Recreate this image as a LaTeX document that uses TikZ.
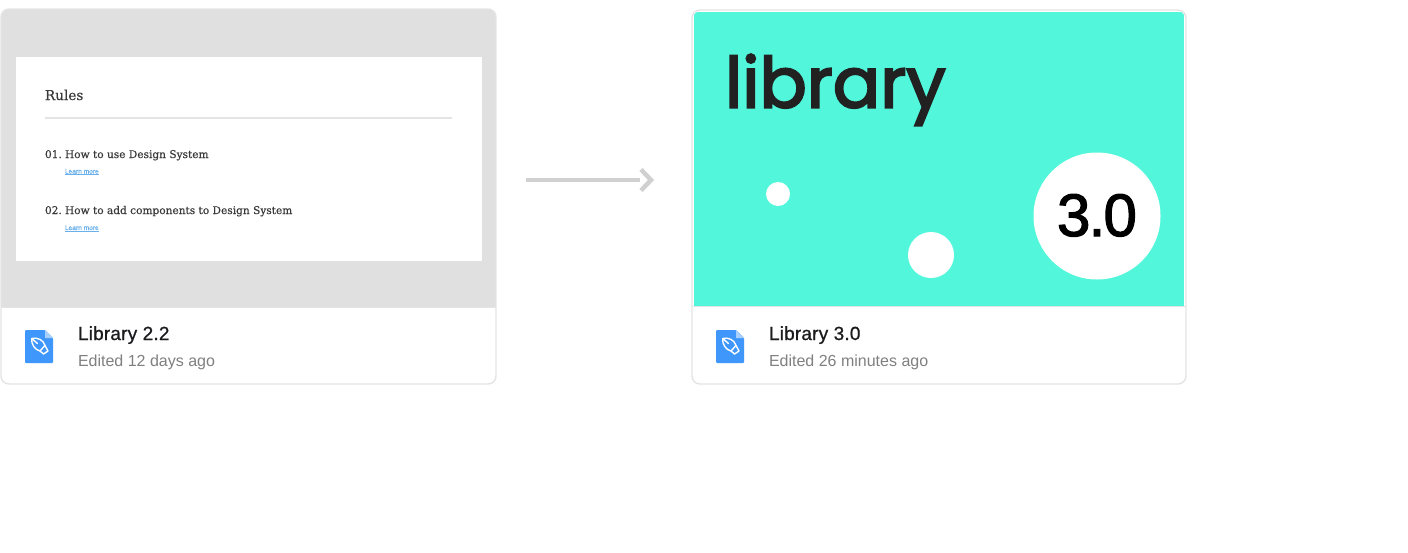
\documentclass[tikz,border=0pt]{standalone}
\usepackage{fontspec}
\setmainfont{Open Sans}
\newfontfamily\slabfont[FakeBold=0.4]{DejaVu Serif}
\newfontfamily\uifont{Liberation Sans}
\newfontfamily\titlefont[FakeBold=0.8,LetterSpace=1]{Liberation Sans}
\newfontfamily\linkfont[FakeBold=1]{Liberation Sans}
\newfontfamily\verfont[FakeBold=2,LetterSpace=-3]{Liberation Sans}
\newfontfamily\geofont[FakeBold=3]{Poppins}
\definecolor{cardline}{HTML}{E4E4E4}
\definecolor{graybg}{HTML}{E0E0E0}
\definecolor{teal}{HTML}{52F7DB}
\definecolor{iconblue}{HTML}{3F97FB}
\definecolor{iconfold}{HTML}{A9D0FC}
\definecolor{titleink}{HTML}{1C1C1E}
\definecolor{subink}{HTML}{808080}
\definecolor{slabink}{HTML}{3A3A3A}
\definecolor{linkblue}{HTML}{6AB0EA}
\definecolor{arrowgray}{HTML}{D0D0D0}
\definecolor{libink}{HTML}{212121}
\tikzset{
  txt/.style={anchor=base west,inner sep=0pt,outer sep=0pt},
  cardtitle/.style={txt,text=titleink,font=\titlefont\fontsize{19}{19}\selectfont},
  cardsub/.style={txt,text=subink,font=\uifont\fontsize{16}{16}\selectfont},
  sliderow/.style={txt,text=slabink,font=\slabfont\fontsize{10.58}{11}\selectfont},
  slidelink/.style={txt,text=linkblue,font=\linkfont\fontsize{6.6}{7}\selectfont},
  nibline/.style={draw=white,line width=1.4pt,line join=round,line cap=round},
  cardborder/.style={draw=cardline,line width=1.4pt,rounded corners=8pt},
}
\newcommand{\fileicon}[2]{%
  \begin{scope}[shift={(#1,#2)}]
    \fill[iconblue,rounded corners=1pt] (0,0) -- (20,0) -- (28,8) -- (28,33) -- (0,33) -- cycle;
    \fill[iconfold] (20,0) -- (28,8) -- (20,8) -- cycle;
    \draw[nibline] (6.7,8.5) .. controls (12.5,7) and (18.5,10) .. (20,15.5) -- (15,21)
       .. controls (10,20) and (6,14) .. (6.7,8.5) -- cycle;
    \draw[nibline] (6.7,8.5) -- (12.5,13.5);
    \draw[nibline] (15,21) -- (18.5,24) -- (23,21) -- (20,15.5);
  \end{scope}}
\begin{document}
\begin{tikzpicture}[x=1pt,y=-1pt]
\useasboundingbox (0,0) rectangle (1408,552);
\fill[white] (0,0) rectangle (1408,552);
% left card
\fill[white,rounded corners=8pt] (1,9) rectangle (496,384);
\begin{scope}
  \clip[rounded corners=8pt] (1,9) rectangle (496,384);
  \fill[graybg] (1,9) rectangle (496,307);
\end{scope}
\draw[cardborder] (1,9) rectangle (496,384);
\draw[cardline,line width=1pt] (1,307.5) -- (496,307.5);
\fill[white] (15.5,56.5) rectangle (481.5,261);
\node[txt,text=slabink,font=\slabfont\fontsize{13.6}{14}\selectfont] (rules) at (45,100) {Rules};
\draw[draw=cardline,line width=1.2pt] (45,118) -- (452,118);
\node[sliderow] (n1) at (45,158) {01.};
\node[sliderow] (r1) at (65,158) {How to use Design System};
\node[slidelink] (l1) at (65,173.5) {Learn more};
\draw[linkblue,line width=0.5pt] (l1.base west)++(0,1.2) -- ++(34,0);
\node[sliderow] (n2) at (45,214) {02.};
\node[sliderow] (r2) at (65,214) {How to add components to Design System};
\node[slidelink] (l2) at (65,230) {Learn more};
\draw[linkblue,line width=0.5pt] (l2.base west)++(0,1.2) -- ++(34,0);
\fileicon{25}{330}
\node[cardtitle] (t1) at (78,340) {Library 2.2};
\node[cardsub] (s1) at (78,366) {Edited 12 days ago};
% arrow
\coordinate (arrowfrom) at (526,180);
\coordinate (arrowto) at (651,180);
\draw[arrowgray,line width=3.6pt] (arrowfrom) -- ([xshift=-11pt]arrowto);
\draw[arrowgray,line width=4.4pt,miter limit=10] ([xshift=-10pt,yshift=-10.5pt]arrowto) -- (arrowto) -- ([xshift=-10pt,yshift=10.5pt]arrowto);
% right card
\fill[white,rounded corners=8pt] (692,10) rectangle (1186,384);
\draw[cardborder] (692,10) rectangle (1186,384);
\begin{scope}
  \clip[rounded corners=6pt] (693.5,11.5) rectangle (1184.5,384);
  \fill[teal] (693.5,11.5) rectangle (1184.5,305.5);
\end{scope}
\draw[cardline,line width=1.6pt] (692,306.5) -- (1186,306.5);
\node[txt,text=libink,font=\geofont\fontsize{70}{72}\selectfont] (lib) at (725,107.5) {library};
\node[circle,fill=white,minimum size=24pt,inner sep=0pt] (d1) at (778,194) {};
\node[circle,fill=white,minimum size=46pt,inner sep=0pt] (d2) at (931,255) {};
\node[circle,fill=white,minimum size=127pt,inner sep=0pt] (d3) at (1097,216) {};
\node[txt,text=black,font=\verfont\fontsize{60}{60}\selectfont] (ver) at (1057,236) {3.0};
\fileicon{716}{330}
\node[cardtitle] (t2) at (769,340) {Library 3.0};
\node[cardsub] (s2) at (769,366) {Edited 26 minutes ago};
\end{tikzpicture}
\end{document}
